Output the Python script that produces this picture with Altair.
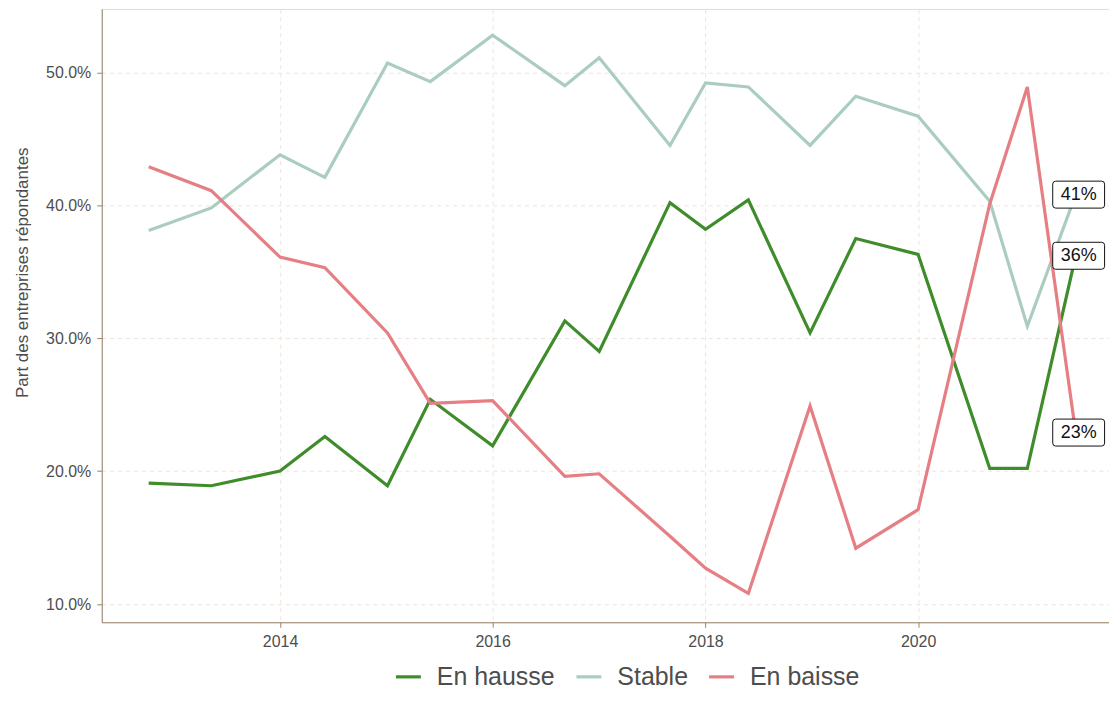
import datetime as dt
import altair as alt
import pandas as pd

# ---- data ----
dates = [
    "2012-10-07", "2013-05-10", "2014-01-01", "2014-06-04", "2015-01-05",
    "2015-06-01", "2016-01-01", "2016-09-05", "2017-01-01", "2017-09-01",
    "2018-01-01", "2018-05-28", "2018-12-26", "2019-06-01", "2020-01-01",
    "2020-09-03", "2021-01-10", "2021-06-25",
]
en_hausse = [19.1, 18.9, 20.0, 22.6, 18.9, 25.4, 21.9, 31.3, 29.0, 40.2,
             38.2, 40.4, 30.4, 37.5, 36.3, 20.2, 20.2, 36.2]
stable = [38.1, 39.8, 43.8, 42.1, 50.7, 49.3, 52.8, 49.0, 51.1, 44.5,
          49.2, 48.9, 44.5, 48.2, 46.7, 40.3, 30.9, 40.8]
en_baisse = [42.9, 41.1, 36.1, 35.3, 30.4, 25.1, 25.3, 19.6, 19.8, 15.1,
             12.7, 10.8, 24.9, 14.2, 17.1, 40.1, 48.9, 22.9]

series_names = ["En hausse", "Stable", "En baisse"]
series_colors = ["#3f8c2b", "#aacdc0", "#e67f84"]
tick_years = [2014, 2016, 2018, 2020]

# ---- tables built from the arrays ----
values = {"En hausse": en_hausse, "Stable": stable, "En baisse": en_baisse}
rows = []
for name in series_names:
    for d, v in zip(dates, values[name]):
        rows.append({"date": d, "serie": name, "part": v / 100.0})
df = pd.DataFrame(rows)

lab_rows = []
for name in series_names:
    v = values[name][-1]
    lab_rows.append({"date": dates[-1], "serie": name, "part": v / 100.0,
                     "label": f"{round(v)}%"})
df_lab = pd.DataFrame(lab_rows)


def year_ms(y):
    yr = int(y)
    a = dt.datetime(yr, 1, 1, tzinfo=dt.timezone.utc)
    b = dt.datetime(yr + 1, 1, 1, tzinfo=dt.timezone.utc)
    return (a + (b - a) * (y - yr)).timestamp() * 1000.0


x_domain = [year_ms(2012.3247), year_ms(2021.793)]
x_ticks = [year_ms(y) for y in tick_years]

AXIS_C = "#9a8469"
GRID_C = "#efe3da"
TXT_C = "#4d4d4d"
FONT = "Liberation Sans"

x_enc = alt.X(
    "date:T",
    scale=alt.Scale(type="utc", domain=x_domain, nice=False),
    axis=alt.Axis(values=x_ticks, format="%Y", formatType="time", title=None,
                  labelFontSize=16, labelColor=TXT_C, labelPadding=6,
                  tickSize=5, tickColor=AXIS_C, domainColor=AXIS_C,
                  grid=True, gridColor=GRID_C, gridDash=[4, 4]),
)
y_enc = alt.Y(
    "part:Q",
    scale=alt.Scale(domain=[0.0863, 0.5477], nice=False, zero=False),
    axis=alt.Axis(values=[0.1, 0.2, 0.3, 0.4, 0.5], format=".1%",
                  title="Part des entreprises répondantes",
                  titleFontSize=17, titleColor=TXT_C, titleFontWeight="normal",
                  titleX=-79, titleY=264, titleAngle=270, titleAlign="center",
                  titleBaseline="middle",
                  labelFontSize=16, labelColor=TXT_C, labelPadding=6,
                  tickSize=5, tickColor=AXIS_C, domainColor=AXIS_C,
                  grid=True, gridColor=GRID_C, gridDash=[4, 4]),
)

color_enc = alt.Color(
    "serie:N",
    scale=alt.Scale(domain=series_names, range=series_colors),
    sort=series_names,
    legend=alt.Legend(title=None, orient="none", direction="horizontal",
                      legendX=293, legendY=655, symbolType="stroke",
                      symbolSize=625, symbolStrokeWidth=3.2,
                      labelFontSize=25, labelColor=TXT_C, labelFont=FONT,
                      labelOffset=14, columnPadding=14, padding=0),
)

lines = alt.Chart(df).mark_line(strokeWidth=3.2, strokeJoin="miter").encode(
    x=x_enc, y=y_enc, color=color_enc, detail="serie:N"
)

box_path = ("M-0.885,-0.52 L0.885,-0.52 Q1,-0.52 1,-0.405 L1,0.405 "
            "Q1,0.52 0.885,0.52 L-0.885,0.52 Q-1,0.52 -1,0.405 "
            "L-1,-0.405 Q-1,-0.52 -0.885,-0.52 Z")

boxes = alt.Chart(df_lab).mark_point(
    shape=box_path, size=2704, filled=True, fill="white", stroke="#111111",
    strokeWidth=1, opacity=1, xOffset=3,
).encode(x="date:T", y="part:Q")

texts = alt.Chart(df_lab).mark_text(
    fontSize=18, font=FONT, color="#111111", dx=3, align="center",
    baseline="middle",
).encode(x="date:T", y="part:Q", text="label:N")

chart = alt.layer(lines, boxes, texts).properties(
    width=1010, height=615,
    autosize=alt.AutoSizeParams(type="none"),
    padding={"left": 94, "top": 0, "right": 0, "bottom": 71},
    background="white",
).configure_view(stroke=None).configure(
    font=FONT
).configure_axis(labelFont=FONT, titleFont=FONT)

chart.save("out.html", embed_options={"renderer": "svg", "actions": False})
